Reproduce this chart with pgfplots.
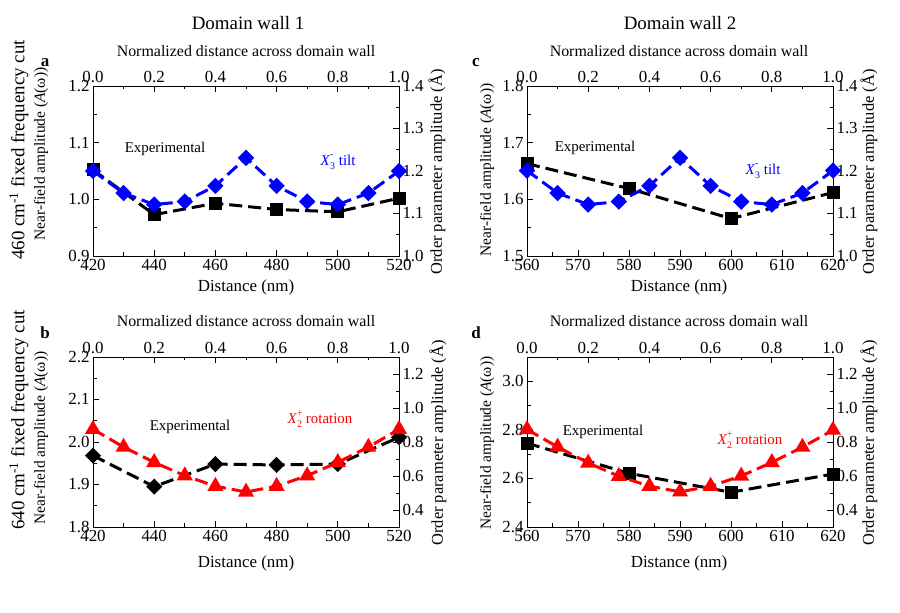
\documentclass[border=0pt]{standalone}
\usepackage{pgfplots}
\pgfplotsset{compat=1.18}
\usepackage{fontspec}
\setmainfont{Liberation Serif}

\definecolor{oblue}{RGB}{0,0,255}
\definecolor{ored}{RGB}{255,0,0}

\newcommand{\fs}[1]{\fontsize{#1}{#1}\selectfont}
\newcommand{\Xthree}{\textit{X}\makebox[0pt][l]{\raisebox{1.05ex}{\fs{10}-}}\raisebox{-0.6ex}{\fs{10}3}}
\newcommand{\Xtwo}{\textit{X}\makebox[0pt][l]{\raisebox{1.05ex}{\fs{10}+}}\raisebox{-0.6ex}{\fs{10}2}}

\pgfplotsset{
  panel/.style={
    scale only axis, width=306bp, height=170bp, anchor=south west,
    axis line style={line width=0.8bp},
    tick style={line width=0.8bp, black},
    major tick length=6bp, minor tick length=3.5bp, tick align=inside,
    minor x tick num=1, minor y tick num=1,
    ticklabel style={font=\fs{17}},
    /pgf/number format/assume math mode=true,
    clip=false,
  },
  onedec/.style={/pgf/number format/fixed, /pgf/number format/fixed zerofill,
    /pgf/number format/precision=1},
  lowaxis/.style={panel, xtick pos=bottom, ytick pos=left,
    yticklabel style={onedec}},
  topaxis/.style={panel, xtick pos=top, ytick pos=right,
    xmin=0, xmax=1, xtick={0,0.2,0.4,0.6,0.8,1.0},
    xticklabel style={onedec}, yticklabel style={onedec}},
  expline/.style={black, line width=3bp, dash pattern=on 13bp off 6bp,
    mark options={solid}},
  bline/.style={oblue, line width=3bp, dash pattern=on 13bp off 6bp,
    mark=square*, mark size=4.3bp, mark options={solid, rotate=45}},
  rline/.style={ored, line width=3bp, dash pattern=on 13bp off 6bp,
    mark=triangle*, mark size=6.3bp, mark options={solid}},
}

\begin{document}
\begin{tikzpicture}[x=1bp,y=1bp]
\useasboundingbox (0,0) rectangle (900,613);

% ---------------- panel a ----------------
\begin{axis}[lowaxis, at={(93bp,357bp)},
  xmin=420, xmax=520, xtick={420,440,460,480,500,520},
  ymin=0.9, ymax=1.2, ytick={0.9,1.0,1.1,1.2}]
\addplot[expline, mark=square*, mark size=5bp] coordinates {
  (420,1.052) (440,0.973) (460,0.993) (480,0.982) (500,0.978) (520,1.002)};
\end{axis}
\begin{axis}[topaxis, at={(93bp,357bp)},
  ymin=1.0, ymax=1.4, ytick={1.0,1.1,1.2,1.3,1.4}]
\addplot[bline] coordinates {
  (0,1.200) (0.1,1.148) (0.2,1.121) (0.3,1.128) (0.4,1.165) (0.5,1.231)
  (0.6,1.165) (0.7,1.128) (0.8,1.121) (0.9,1.148) (1.0,1.200)};
\end{axis}

% ---------------- panel c ----------------
\begin{axis}[lowaxis, at={(527bp,357bp)},
  xmin=560, xmax=620, xtick={560,570,580,590,600,610,620},
  ymin=1.5, ymax=1.8, ytick={1.5,1.6,1.7,1.8}]
\addplot[expline, mark=square*, mark size=5bp] coordinates {
  (560,1.663) (580,1.619) (600,1.566) (620,1.612)};
\end{axis}
\begin{axis}[topaxis, at={(527bp,357bp)},
  ymin=1.0, ymax=1.4, ytick={1.0,1.1,1.2,1.3,1.4}]
\addplot[bline] coordinates {
  (0,1.201) (0.1,1.148) (0.2,1.121) (0.3,1.128) (0.4,1.165) (0.5,1.231)
  (0.6,1.165) (0.7,1.128) (0.8,1.121) (0.9,1.148) (1.0,1.201)};
\end{axis}

% ---------------- panel b ----------------
\begin{axis}[lowaxis, at={(93bp,86bp)},
  xmin=420, xmax=520, xtick={420,440,460,480,500,520},
  ymin=1.8, ymax=2.2, ytick={1.8,1.9,2.0,2.1,2.2}]
\addplot[expline, mark=square*, mark size=4.2bp, mark options={solid, rotate=45}] coordinates {
  (420,1.968) (440,1.895) (460,1.948) (480,1.946) (500,1.948) (520,2.011)};
\end{axis}
\begin{axis}[topaxis, at={(93bp,86bp)},
  ymin=0.3, ymax=1.3, ytick={0.4,0.6,0.8,1.0,1.2}]
\addplot[rline] coordinates {
  (0,0.875) (0.1,0.770) (0.2,0.680) (0.3,0.602) (0.4,0.540) (0.5,0.506)
  (0.6,0.540) (0.7,0.602) (0.8,0.680) (0.9,0.770) (1.0,0.875)};
\end{axis}

% ---------------- panel d ----------------
\begin{axis}[lowaxis, at={(527bp,86bp)},
  xmin=560, xmax=620, xtick={560,570,580,590,600,610,620},
  ymin=2.4, ymax=3.1, ytick={2.4,2.6,2.8,3.0}]
\addplot[expline, mark=square*, mark size=5bp] coordinates {
  (560,2.745) (580,2.621) (600,2.543) (620,2.618)};
\end{axis}
\begin{axis}[topaxis, at={(527bp,86bp)},
  ymin=0.3, ymax=1.3, ytick={0.4,0.6,0.8,1.0,1.2}]
\addplot[rline] coordinates {
  (0,0.874) (0.1,0.771) (0.2,0.677) (0.3,0.599) (0.4,0.540) (0.5,0.507)
  (0.6,0.540) (0.7,0.600) (0.8,0.680) (0.9,0.770) (1.0,0.870)};
\end{axis}

% ---------------- texts ----------------
\node[font=\fs{19}] at (248,590) {Domain wall 1};
\node[font=\fs{19}] at (680,590) {Domain wall 2};

\foreach \cx in {246,679} {
  \node[font=\fs{16}] at (\cx,562) {Normalized distance across domain wall};
  \node[font=\fs{16}] at (\cx,292) {Normalized distance across domain wall};
  \node[font=\fs{17}] at (\cx,326) {Distance (nm)};
  \node[font=\fs{17}] at (\cx,50) {Distance (nm)};
}

\node[font=\fs{19}, rotate=90] at (19,463) {460 cm\textsuperscript{-1} fixed frequency cut};
\node[font=\fs{19}, rotate=90] at (19,193) {640 cm\textsuperscript{-1} fixed frequency cut};

\node[font=\fs{15.5}, rotate=90] at (41,459) {Near-field amplitude (\textit{A}(ω))};
\node[font=\fs{15.5}, rotate=90] at (41,175) {Near-field amplitude (\textit{A}(ω))};
\node[font=\fs{15.5}, rotate=90] at (487,443) {Near-field amplitude (\textit{A}(ω))};
\node[font=\fs{15.5}, rotate=90] at (487,170) {Near-field amplitude (\textit{A}(ω))};

\node[font=\fs{16.5}, rotate=90] at (437,441) {Order parameter amplitude (Å)};
\node[font=\fs{16.5}, rotate=90] at (869,441) {Order parameter amplitude (Å)};
\node[font=\fs{16.5}, rotate=90] at (438,170) {Order parameter amplitude (Å)};
\node[font=\fs{16.5}, rotate=90] at (869,170) {Order parameter amplitude (Å)};

\node[font=\bfseries\fs{17}] at (45,550) {a};
\node[font=\bfseries\fs{17}] at (45,280) {b};
\node[font=\bfseries\fs{17}] at (476,550) {c};
\node[font=\bfseries\fs{17}] at (476,280) {d};

\node[font=\fs{15}] at (165,464) {Experimental};
\node[font=\fs{15}] at (595,465) {Experimental};
\node[font=\fs{15}] at (190,186) {Experimental};
\node[font=\fs{15}] at (603,181) {Experimental};

\node[font=\fs{15}, text=oblue] at (338,451) {\Xthree\ tilt};
\node[font=\fs{15}, text=oblue] at (763,442) {\Xthree\ tilt};
\node[font=\fs{15}, text=ored] at (320,194) {\Xtwo\ rotation};
\node[font=\fs{15}, text=ored] at (750,173) {\Xtwo\ rotation};
\end{tikzpicture}
\end{document}
